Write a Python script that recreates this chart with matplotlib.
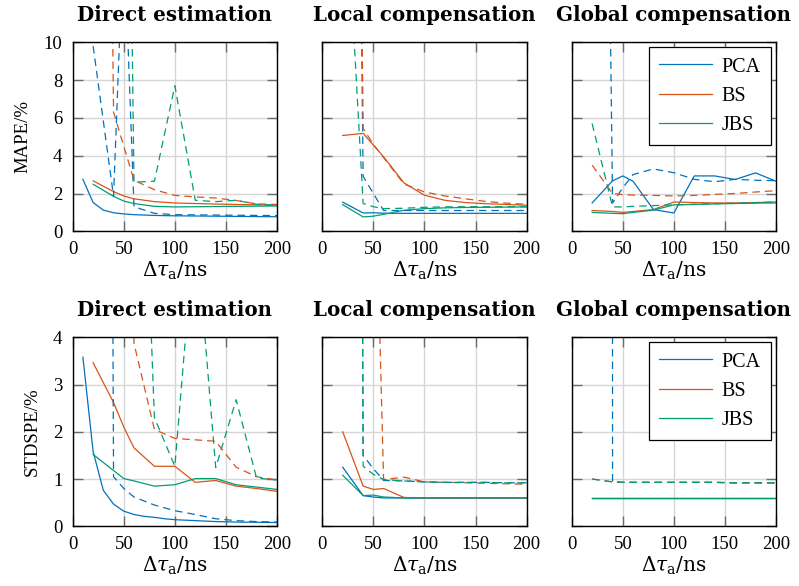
import matplotlib
matplotlib.use("Agg")
import matplotlib.pyplot as plt

plt.rcParams["font.family"] = ["Liberation Serif", "DejaVu Serif"]
plt.rcParams["mathtext.fontset"] = "dejavuserif"

# sample positions (ns)
X = [20, 40, 50, 60, 80, 100, 120, 140, 160, 180, 200]
X_DENSE = [10, 20, 30, 40, 50, 60, 70, 80, 90, 100, 120, 140, 160, 180, 200]

# ---- MAPE, direct estimation ----
mape_direct_pca = [2.75, 1.52, 1.12, 0.98, 0.92, 0.88, 0.86, 0.84, 0.83, 0.82, 0.81, 0.80, 0.79, 0.78, 0.77]
mape_direct_pca_dash = [9.8, 1.85, 16.0, 1.3, 0.95, 0.88, 0.87, 0.86, 0.85, 0.84, 0.83]
mape_direct_bs = [2.67, 2.1, 1.87, 1.72, 1.57, 1.5, 1.47, 1.44, 1.42, 1.4, 1.38]
mape_direct_bs_dash = [100, 6.3, 4.5, 2.7, 2.2, 1.9, 1.82, 1.76, 1.63, 1.45, 1.42]
mape_direct_jbs = [2.49, 1.85, 1.6, 1.47, 1.32, 1.29, 1.3, 1.31, 1.32, 1.33, 1.34]
mape_direct_jbs_dash = [150, 80, 45, 2.6, 2.65, 7.7, 1.64, 1.57, 1.64, 1.43, 1.38]

# ---- MAPE, local compensation ----
mape_local_pca = [1.54, 0.97, 0.98, 0.96, 0.95, 0.95, 0.95, 0.95, 0.95, 0.95, 0.95]
mape_local_pca_dash = [100, 2.9, 2.0, 1.1, 1.1, 1.1, 1.1, 1.1, 1.1, 1.1, 1.1]
mape_local_bs = [5.07, 5.18, 4.56, 3.94, 2.56, 1.91, 1.64, 1.52, 1.46, 1.42, 1.38]
mape_local_bs_dash = [100, 5.44, 4.6, 3.9, 2.5, 2.08, 1.87, 1.72, 1.58, 1.49, 1.43]
mape_local_jbs = [1.41, 0.76, 0.8, 0.9, 1.11, 1.2, 1.24, 1.26, 1.27, 1.28, 1.29]
mape_local_jbs_dash = [21, 1.47, 1.3, 1.2, 1.22, 1.27, 1.29, 1.3, 1.3, 1.3, 1.3]

# ---- MAPE, global compensation ----
mape_global_pca = [1.5, 2.67, 2.93, 2.65, 1.15, 0.97, 2.93, 2.93, 2.74, 3.09, 2.65]
mape_global_pca_dash = [90, 1.5, 2.3, 3.0, 3.3, 3.1, 2.75, 2.62, 2.75, 2.7, 2.68]
mape_global_bs = [1.1, 1.05, 1.0, 1.05, 1.15, 1.55, 1.52, 1.5, 1.5, 1.52, 1.55]
mape_global_bs_dash = [3.5, 2.0, 1.94, 1.92, 1.9, 1.87, 1.9, 1.95, 2.0, 2.08, 2.15]
mape_global_jbs = [1.0, 0.95, 0.93, 1.0, 1.12, 1.4, 1.42, 1.45, 1.47, 1.49, 1.5]
mape_global_jbs_dash = [5.7, 1.29, 1.29, 1.32, 1.36, 1.4, 1.43, 1.46, 1.49, 1.52, 1.55]

# ---- STDSPE, direct estimation ----
std_direct_pca = [3.58, 1.58, 0.76, 0.47, 0.32, 0.25, 0.21, 0.19, 0.16, 0.14, 0.12, 0.10, 0.09, 0.085, 0.08]
std_direct_pca_dash = [100, 1.05, 0.8, 0.62, 0.45, 0.33, 0.25, 0.16, 0.12, 0.1, 0.09]
std_direct_bs = [3.46, 2.62, 2.1, 1.66, 1.27, 1.27, 0.93, 0.97, 0.85, 0.8, 0.74]
std_direct_bs_dash = [100, 100, 100, 3.87, 2.05, 1.86, 1.83, 1.8, 1.25, 1.05, 0.98]
std_direct_jbs = [1.52, 1.18, 1.01, 0.96, 0.85, 0.88, 1.01, 1.01, 0.88, 0.83, 0.78]
std_direct_jbs_dash = [100, 100, 100, 13.6, 2.3, 1.27, 6.5, 1.24, 2.68, 1.02, 0.98]

# ---- STDSPE, local compensation ----
std_local_pca = [1.25, 0.65, 0.62, 0.6, 0.6, 0.6, 0.6, 0.6, 0.6, 0.6, 0.6]
std_local_pca_dash = [100, 1.5, 1.22, 0.97, 0.96, 0.94, 0.93, 0.93, 0.93, 0.92, 0.92]
std_local_bs = [2.0, 0.85, 0.78, 0.8, 0.61, 0.6, 0.6, 0.6, 0.6, 0.6, 0.6]
std_local_bs_dash = [100, 100, 9.3, 0.99, 1.04, 0.94, 0.93, 0.92, 0.91, 0.9, 0.89]
std_local_jbs = [1.08, 0.65, 0.66, 0.62, 0.6, 0.6, 0.6, 0.6, 0.6, 0.6, 0.6]
std_local_jbs_dash = [100, 1.27, 1.1, 0.99, 0.96, 0.94, 0.93, 0.93, 0.93, 0.92, 0.92]

# ---- STDSPE, global compensation ----
std_global_pca = [0.59, 0.59, 0.59, 0.59, 0.59, 0.59, 0.59, 0.59, 0.59, 0.59, 0.59]
std_global_pca_dash = [1000, 0.94, 0.93, 0.93, 0.93, 0.93, 0.93, 0.93, 0.92, 0.92, 0.92]
std_global_bs = [0.59, 0.59, 0.59, 0.59, 0.59, 0.59, 0.59, 0.59, 0.59, 0.59, 0.59]
std_global_bs_dash = [1.0, 0.94, 0.93, 0.93, 0.93, 0.93, 0.93, 0.93, 0.92, 0.92, 0.92]
std_global_jbs = [0.59, 0.59, 0.59, 0.59, 0.59, 0.59, 0.59, 0.59, 0.59, 0.59, 0.59]
std_global_jbs_dash = [1.0, 0.94, 0.93, 0.93, 0.93, 0.93, 0.93, 0.93, 0.92, 0.92, 0.92]

titles = ["Direct estimation", "Local compensation", "Global compensation"]
methods = ["PCA", "BS", "JBS"]
colors = {"PCA": "#0072BD", "BS": "#D95319", "JBS": "#009E73"}

panels = [
    [  # top row
        {"PCA": (X_DENSE, mape_direct_pca, X, mape_direct_pca_dash),
         "BS": (X, mape_direct_bs, X, mape_direct_bs_dash),
         "JBS": (X, mape_direct_jbs, X, mape_direct_jbs_dash)},
        {"PCA": (X, mape_local_pca, X, mape_local_pca_dash),
         "BS": (X, mape_local_bs, X, mape_local_bs_dash),
         "JBS": (X, mape_local_jbs, X, mape_local_jbs_dash)},
        {"PCA": (X, mape_global_pca, X, mape_global_pca_dash),
         "BS": (X, mape_global_bs, X, mape_global_bs_dash),
         "JBS": (X, mape_global_jbs, X, mape_global_jbs_dash)},
    ],
    [  # bottom row
        {"PCA": (X_DENSE, std_direct_pca, X, std_direct_pca_dash),
         "BS": (X, std_direct_bs, X, std_direct_bs_dash),
         "JBS": (X, std_direct_jbs, X, std_direct_jbs_dash)},
        {"PCA": (X, std_local_pca, X, std_local_pca_dash),
         "BS": (X, std_local_bs, X, std_local_bs_dash),
         "JBS": (X, std_local_jbs, X, std_local_jbs_dash)},
        {"PCA": (X, std_global_pca, X, std_global_pca_dash),
         "BS": (X, std_global_bs, X, std_global_bs_dash),
         "JBS": (X, std_global_jbs, X, std_global_jbs_dash)},
    ],
]

ylabels = ["MAPE/%", "STDSPE/%"]
ylims = [(0, 10), (0, 4)]
yticks = [[0, 2, 4, 6, 8, 10], [0, 1, 2, 3, 4]]

W, H = 799, 586
fig = plt.figure(figsize=(W / 100, H / 100), dpi=100)

lefts = [72.7, 322.3, 571.7]
ax_w = 204.3
tops = [42.3, 337.3]
ax_h = 189.0

FS = 13.5
for r in range(2):
    for c in range(3):
        ax = fig.add_axes([lefts[c] / W, 1 - (tops[r] + ax_h) / H, ax_w / W, ax_h / H])
        data = panels[r][c]
        for m in methods:
            xs, ys, xd, yd = data[m]
            ax.plot(xs, ys, color=colors[m], lw=0.9, label=m)
        for m in methods:
            xs, ys, xd, yd = data[m]
            ax.plot(xd, yd, color=colors[m], lw=0.9, linestyle=(0, (6, 4)))
        ax.set_xlim(0, 200)
        ax.set_ylim(*ylims[r])
        ax.set_xticks([0, 50, 100, 150, 200])
        ax.set_yticks(yticks[r])
        ax.grid(True, color="#d6d6d6", lw=1.0)
        ax.set_axisbelow(True)
        ax.tick_params(direction="in", length=7, width=1.0, color="#6b6b6b",
                       top=True, right=True, labelsize=FS)
        ax.tick_params(axis="x", pad=7)
        ax.tick_params(axis="y", pad=7.5)
        for s in ax.spines.values():
            s.set_linewidth(1.0)
            s.set_color("black")
        if c > 0:
            ax.tick_params(labelleft=False)
        else:
            ax.set_ylabel(ylabels[r], fontsize=FS, labelpad=9)
        ax.set_xlabel(r"$\Delta\tau_{\mathrm{a}}/\mathrm{ns}$", fontsize=14.5, labelpad=1.5)
        ax.set_title(titles[c], fontsize=14.3, fontweight="bold",
                     family="DejaVu Serif", pad=15)
        if c == 2:
            leg = ax.legend(loc="upper right", fontsize=FS + 1, frameon=True,
                            fancybox=False, edgecolor="black", framealpha=1,
                            handlelength=2.6, borderaxespad=0.25, labelspacing=0.5,
                            borderpad=0.5, handletextpad=0.5)
            leg.get_frame().set_linewidth(0.9)

fig.savefig("out.png", dpi=100)
